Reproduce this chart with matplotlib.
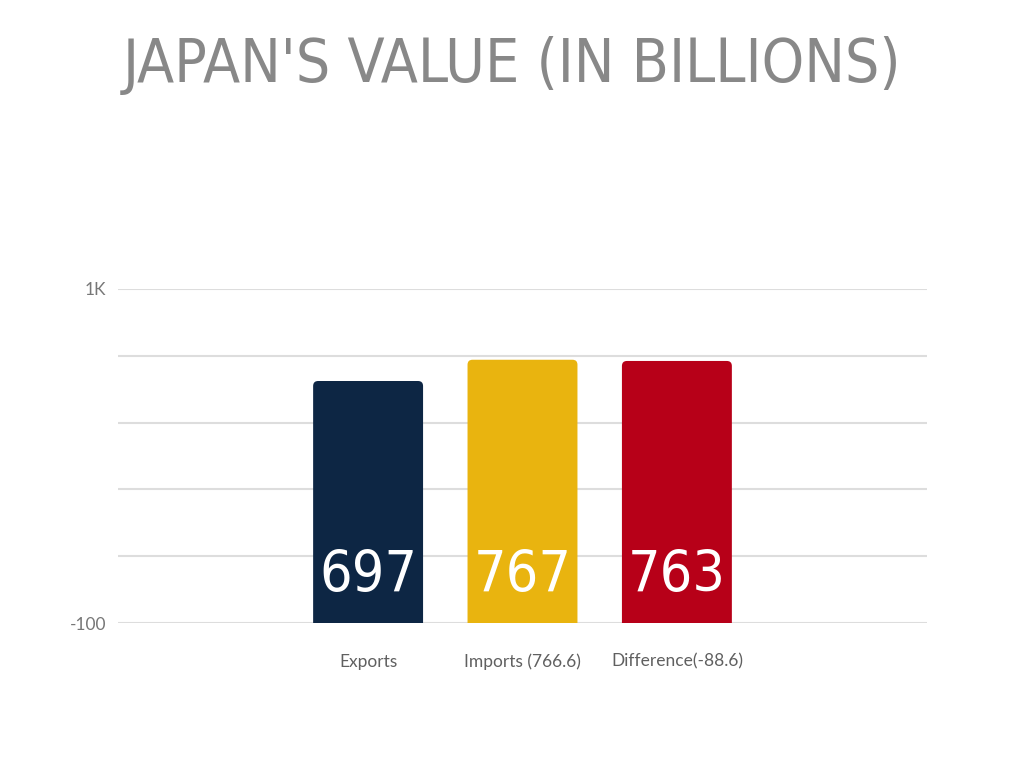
import matplotlib
matplotlib.use("Agg")
import matplotlib.pyplot as plt
from matplotlib.patches import FancyBboxPatch

title = "JAPAN'S VALUE (IN BILLIONS)"
categories = ["Exports", "Imports (766.6)", "Difference(-88.6)"]
values = [697, 767, 763]
value_labels = ["697", "767", "763"]
colors = ["#0d2644", "#e9b40f", "#b70018"]
yticks = [-100, 120, 340, 560, 780, 1000]
ytick_labels = ["-100", "", "", "", "", "1K"]
baseline = -100

fig = plt.figure(figsize=(10.24, 7.68), dpi=100)
ax = fig.add_axes([0.1152, 0.1888, 0.7901, 0.4349])
ax.set_xlim(-1.62, 3.62)
ax.set_ylim(-100, 1000)

x = list(range(len(categories)))
bars = ax.bar(x, [v - baseline for v in values], bottom=baseline, width=0.712,
              color=colors, zorder=3)
xr = 1 / 154.5
yr = 1100 / 334
for b, c in zip(bars, colors):
    b.set_visible(False)
    ext = 10 * yr
    p = FancyBboxPatch((b.get_x(), b.get_y() - ext), b.get_width(), b.get_height() + ext,
                       boxstyle="round,pad=0,rounding_size=%f" % (5 * xr),
                       mutation_aspect=yr / xr, facecolor=c, edgecolor="none",
                       zorder=3, clip_on=True)
    ax.add_patch(p)

for xi, lab in zip(x, value_labels):
    ax.annotate(lab, xy=(xi, baseline), xytext=(0, 22.5), textcoords="offset points",
                ha="center", va="baseline", color="white", fontsize=41,
                family=["DejaVu Sans"], fontstretch="condensed",
                fontweight="light", zorder=4)

ax.set_yticks(yticks)
ax.set_yticklabels(ytick_labels)
ax.set_xticks(x)
ax.set_xticklabels(categories)
ax.grid(axis="y", color="#dddddd", linewidth=1.5, zorder=0)
ax.set_axisbelow(True)
for s in ax.spines.values():
    s.set_visible(False)
ax.tick_params(axis="both", length=0)
ax.tick_params(axis="y", pad=8.5, labelsize=12.5, labelcolor="#777777")
ax.tick_params(axis="x", pad=22, labelsize=12.5, labelcolor="#606060")
for t in ax.get_xticklabels() + ax.get_yticklabels():
    t.set_family(["Lato", "DejaVu Sans"])
    t.set_fontweight("normal")

fig.text(0.5, 0.915, title, ha="center", va="center", color="#888888",
         fontsize=43.5, family=["DejaVu Sans"], fontstretch="condensed")

fig.savefig("out.png", dpi=100, facecolor="white")
